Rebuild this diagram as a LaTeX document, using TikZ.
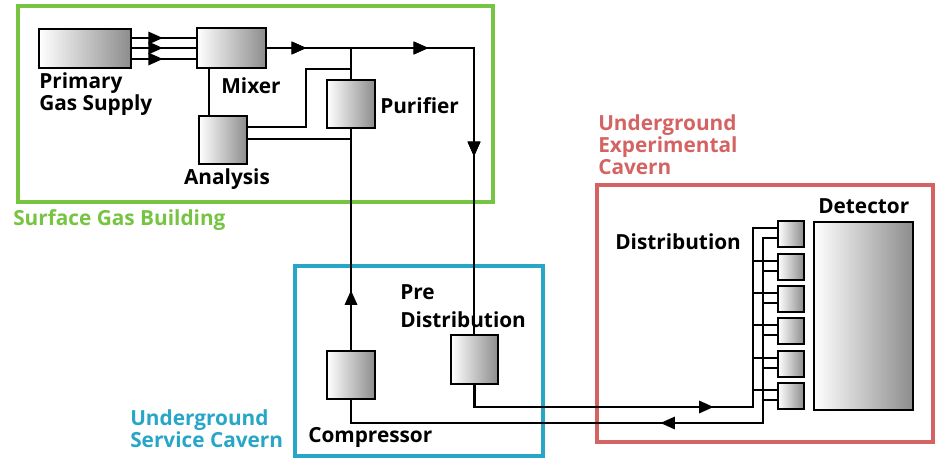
\documentclass[tikz,border=0pt]{standalone}
\usepackage{fontspec}
\setmainfont{Open Sans}
\usetikzlibrary{arrows.meta,decorations.markings,fit}
\definecolor{sgreen}{RGB}{118,196,66}
\definecolor{sblue}{RGB}{40,166,200}
\definecolor{sred}{RGB}{212,100,100}
\tikzset{
  dev/.style={draw=black,line width=2.1pt,left color=white,right color=black!45,inner sep=0pt},
  pipe/.style={line width=2.2pt,line join=miter},
  lab/.style={font=\bfseries\fontsize{15.6}{16.5}\selectfont,inner sep=0pt,align=left},
  frame/.style={line width=3.5pt},
  tipat/.style={postaction={decorate},decoration={markings,mark=at position #1 with {\arrow{Triangle[length=11pt,width=9pt]}}}},
}
\begin{document}
\begin{tikzpicture}[x=0.75pt,y=-0.75pt]
\useasboundingbox (0,0) rectangle (936,460);
% frames
\draw[frame,sgreen] (18,6) rectangle (493,202);
\draw[frame,sblue] (295,266) rectangle (543,456);
\draw[frame,sred] (597,185) rectangle (933,442);
% region labels
\node[lab,anchor=west,text=sgreen] (lsurf) at (13,220) {Surface Gas Building};
\node[lab,anchor=west,text=sblue] (lserv) at (130,429) {Underground\\Service Cavern};
\node[lab,anchor=west,text=sred] (lexp) at (598,145) {Underground\\Experimental\\Cavern};
% devices
\node[dev,fit={(39,29) (131,68)}] (prim) {};
\node[dev,fit={(197,28) (266,68)}] (mix) {};
\node[dev,fit={(199,116) (247,164)}] (ana) {};
\node[dev,fit={(327,80) (375,128)}] (pur) {};
\node[dev,fit={(327,351) (375,399)}] (comp) {};
\node[dev,fit={(451,335) (498,384)}] (pre) {};
\node[dev,fit={(814,222) (913,410)}] (det) {};
\foreach \i/\t in {1/221,2/254,3/286,4/318,5/351,6/383}{
  \node[dev,fit={(778,\t) (804,\t+26)}] (d\i) {};
}
% device labels
\node[lab,anchor=west] (lprim) at (39,94) {Primary\\Gas Supply};
\node[lab] (lmix) at (251,86) {Mixer};
\node[lab,anchor=west] (lpur) at (380,106) {Purifier};
\node[lab] (lana) at (227,179) {Analysis};
\node[lab,anchor=west] (lpre1) at (400,292) {Pre};
\node[lab,anchor=west] (lpre2) at (400,320) {Distribution};
\node[lab,anchor=west] (lcomp) at (308,437) {Compressor};
\node[lab,anchor=west] (ldist) at (615,242) {Distribution};
\node[lab,anchor=west] (ldet) at (818,206) {Detector};
% supply to mixer
\foreach \y in {38,48,59}{
  \draw[pipe,tipat=0.485] (prim.east |- 0,\y) -- (mix.west |- 0,\y);
}
% mixer output to pre-distribution
\coordinate (c1) at (474,48);
\draw[pipe,tipat=0.079,tipat=0.327,tipat=0.64] (mix.east |- c1) -- (c1) -- (pre.north -| c1);
% branch to purifier
\draw[pipe] (pur.north) -- (pur.north |- c1);
% mixer to analysis
\draw[pipe] (mix.south -| 209,0) -- (ana.north -| 209,0);
% analysis lines
\coordinate (c2) at (306,127);
\draw[pipe] (ana.east |- c2) -- (c2) -- (306,69) -- (pur.north |- 0,69);
\draw[pipe] (ana.east |- 0,139) -- (pur.south |- 0,139);
% compressor to purifier
\draw[pipe,tipat=0.27] (comp.north) -- (pur.south);
% pre-distribution to distribution
\coordinate (s1) at (753,407);
\draw[pipe,tipat=0.519] (pre.south) -- (pre.south |- s1) -- (s1) -- (753,228) -- (d1.west |- 0,228);
% return to compressor
\coordinate (r1) at (763,423);
\draw[pipe,tipat=0.476] (d1.west |- 0,238) -- (763,238) -- (r1) -- (comp.south |- r1) -- (comp.south);
% branches
\foreach \i/\t in {2/254,3/286,4/318,5/351,6/383}{
  \draw[pipe] (753,\t+7) -- (d\i.west |- 0,\t+7);
  \draw[pipe] (763,\t+17) -- (d\i.west |- 0,\t+17);
}
\end{tikzpicture}
\end{document}
